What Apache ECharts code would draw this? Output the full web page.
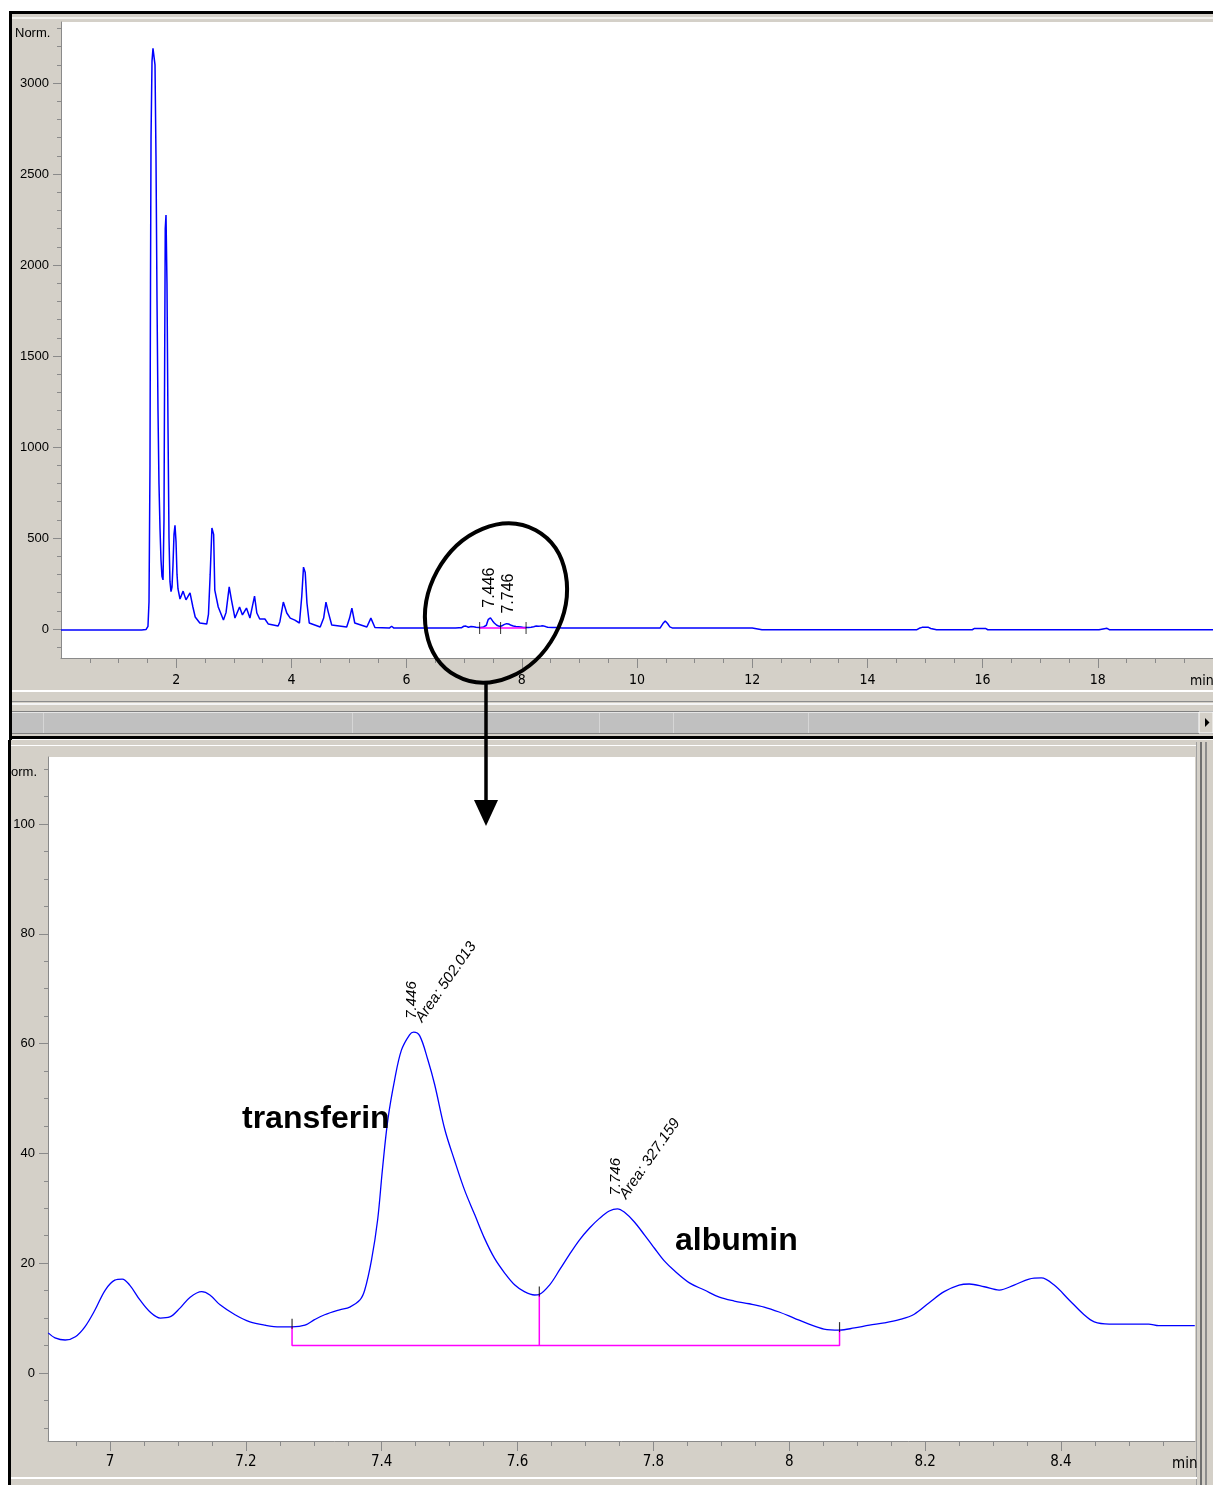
<!DOCTYPE html>
<html><head><meta charset="utf-8">
<script src="https://cdn.jsdelivr.net/npm/echarts@6/dist/echarts.min.js"></script>
<style>html,body{margin:0;padding:0;background:#fff}#c{width:1213px;height:1485px}</style>
</head><body><div id="c"></div>
<script>
// ---------- DATA ----------
// overview chromatogram (0 - 6.9 min)
const overviewTimes = [0,1.40,1.475,1.493,1.510,1.528,1.545,1.554,1.563,1.580,1.597,1.615,1.632,1.649,1.667,1.684,1.701,1.719,1.736,1.753,1.771,1.788,1.800,1.810,1.823,1.840,1.858,1.875,1.892,1.910,1.927,1.944,1.962,1.979,1.997,2.014,2.031,2.066,2.12,2.17,2.24,2.29,2.33,2.41,2.53,2.56,2.59,2.62,2.65,2.67,2.73,2.82,2.865,2.92,2.96,3.02,3.10,3.15,3.22,3.28,3.32,3.36,3.40,3.45,3.54,3.60,3.77,3.80,3.86,3.92,3.98,4.06,4.14,4.18,4.21,4.24,4.27,4.31,4.50,4.56,4.60,4.64,4.70,4.96,5.01,5.05,5.10,5.31,5.38,5.45,5.70,5.74,5.78,6.08,6.11,6.14,6.27,6.30,6.33,6.85];
const overviewValues = [-5,-5,-3,0,15,150,900,1900,2700,3120,3190,3190,3100,2600,1800,1200,800,550,380,290,270,600,1500,2200,2275,1900,1100,500,260,205,230,350,520,570,480,300,220,165,208,160,198,121,66,33,27,80,300,555,520,214,121,49,90,231,159,60,121,77,115,60,120,181,88,55,55,27,16,40,148,88,60,49,33,180,340,310,143,33,11,60,148,93,22,11,60,115,33,11,60,8,5,15,5,5,14,5,5,12,5,5];
// overview chromatogram (8.6 - 20 min)
const tailTimes = [8.7,8.9,10.40,10.45,10.49,10.53,10.57,10.62,12.0,12.03,12.17,12.2,12.25,12.6,12.62,12.64,14.86,14.9,14.95,15.06,15.1,15.2,15.82,15.86,16.05,16.09,18.02,18.05,18.16,18.2,20];
const tailValues = [6,5,5,30,44,30,12,5,5,-4,-4,4,-4,-4,3,-4,-4,4,9,9,3,-4,-4,3,3,-4,-4,4,4,-4,-4];
// zoomed detail (6.91 - 8.6 min)
const zoomTimes = [6.909,6.919,6.934,6.949,6.963,6.978,6.993,7.007,7.018,7.029,7.044,7.059,7.074,7.088,7.103,7.118,7.135,7.147,7.162,7.184,7.206,7.228,7.250,7.268,7.287,7.301,7.316,7.338,7.353,7.368,7.375,7.385,7.394,7.401,7.409,7.419,7.429,7.441,7.447,7.456,7.468,7.478,7.493,7.507,7.522,7.537,7.551,7.566,7.581,7.596,7.610,7.625,7.632,7.647,7.662,7.676,7.691,7.706,7.721,7.735,7.747,7.757,7.772,7.787,7.801,7.816,7.831,7.853,7.875,7.897,7.919,7.941,7.963,7.985,8.007,8.029,8.051,8.074,8.096,8.118,8.140,8.162,8.184,8.206,8.228,8.250,8.265,8.287,8.309,8.331,8.353,8.371,8.390,8.412,8.434,8.449,8.471,8.529,8.544,8.597];
const zoomValues = [7.3,6.4,6.0,6.6,8.4,11.5,15.1,16.9,17.1,16.0,13.3,11.1,10.0,10.2,11.8,13.8,14.8,14.2,12.4,10.6,9.3,8.7,8.4,8.4,8.7,9.7,10.6,11.5,12.0,13.3,15.1,20.6,27.9,37.0,46.1,53.4,58.8,61.6,62.1,61.4,57.0,52.5,44.3,38.8,33.3,28.8,24.6,20.9,18.2,16.0,14.8,14.2,14.3,16.0,18.8,21.5,24.2,26.4,28.2,29.5,29.9,29.3,27.5,25.1,22.8,20.4,18.6,16.4,15.1,13.8,13.1,12.6,12.0,11.1,10.0,8.9,8.0,7.8,8.2,8.7,9.1,9.7,10.7,12.8,14.8,16.0,16.2,15.7,15.1,16.0,17.1,17.3,16.0,13.3,10.6,9.3,8.9,8.9,8.6,8.6];
// peaks and integration
const peakTimes = [7.446, 7.746];
const peakHeights = [62.1, 29.9];
const peakAreas = ['502.013', '327.159'];
const peakNames = ['transferin', 'albumin'];
const integrationTimes = [7.268, 7.632, 8.074];
const integrationHeights = [8.4, 14.3, 7.8];
const integrationLevel = 5;
// tick labels
const topXLabels = [2,4,6,8,10,12,14,16,18];
const topYLabels = [0,500,1000,1500,2000,2500,3000];
const zoomXLabels = [7,7.2,7.4,7.6,7.8,8,8.2,8.4];
const zoomYLabels = [0,20,40,60,80,100];

// ---------- helpers ----------
function steps(a, b, s){const r=[];for(let v=a; v<=b+1e-9; v+=s){r.push(Math.round(v*1000)/1000);}return r;}
const topXMinor = steps(0.5, 19.5, 0.5);
const topYMinor = steps(-100, 3300, 100);
const zoomXMinor = steps(6.95, 8.55, 0.05);
const zoomYMinor = steps(-10, 110, 5);

const pair = (ts, vs) => ts.map((t, i) => [t, vs[i]]);
const overviewData = pair(overviewTimes, overviewValues).concat(pair(zoomTimes, zoomValues), pair(tailTimes, tailValues));
const zoomData = pair(zoomTimes, zoomValues);

const AX = '#8a8a8a';
const NARROW = '"Liberation Sans Narrow","DejaVu Sans Condensed","Liberation Sans",sans-serif';
const SANS = '"Liberation Sans",Arial,sans-serif';

function majorAxis(grid, min, max, labels, tickLen, margin, font, size, isX) {
  return {
    type: 'value', gridIndex: grid, min: min, max: max, position: isX ? 'bottom' : 'left',
    axisLine: {show: true, onZero: false, lineStyle: {color: AX, width: 1}},
    axisTick: {show: true, inside: false, length: tickLen, customValues: labels, lineStyle: {color: AX, width: 1}},
    axisLabel: {show: true, customValues: labels, margin: margin, color: '#000', fontFamily: font, fontSize: size,
      formatter: v => String(v)},
    splitLine: {show: false}
  };
}
function minorAxis(grid, min, max, ticks, tickLen, isX) {
  return {
    type: 'value', gridIndex: grid, min: min, max: max, position: isX ? 'bottom' : 'left',
    axisLine: {show: false, onZero: false},
    axisTick: {show: true, inside: false, length: tickLen, customValues: ticks, lineStyle: {color: AX, width: 1}},
    axisLabel: {show: false},
    splitLine: {show: false}
  };
}

const topYMin = -159.3, topYMax = 3335.2;
const zoomXMin = 6.9087, zoomXMax = 8.5973;
const zoomYMin = -12.4, zoomYMax = 112.2;

const BG = '#d4d0c8';
const bgEls = [
  // top panel
  {type:'rect', shape:{x:10,y:12,width:1203,height:727}, style:{fill:BG}},
  {type:'rect', shape:{x:12,y:17,width:1201,height:2}, style:{fill:'#f1f0ec'}},
  {type:'rect', shape:{x:12,y:690,width:1201,height:2}, style:{fill:'#ffffff'}},
  {type:'rect', shape:{x:12,y:701,width:1201,height:1}, style:{fill:'#8c8c8c'}},
  {type:'rect', shape:{x:12,y:703,width:1201,height:2}, style:{fill:'#f4f4f4'}},
  {type:'rect', shape:{x:12,y:711,width:1201,height:1}, style:{fill:'#808080'}},
  {type:'rect', shape:{x:12,y:712,width:1187,height:21}, style:{fill:'#c0c0c0'}},
  {type:'rect', shape:{x:12,y:712,width:1187,height:1}, style:{fill:'#e6e6e6'}},
  {type:'rect', shape:{x:12,y:733,width:1201,height:1}, style:{fill:'#808080'}},
  {type:'rect', shape:{x:43,y:713,width:1,height:20}, style:{fill:'#d6d6d6'}},
  {type:'rect', shape:{x:352,y:713,width:1,height:20}, style:{fill:'#d6d6d6'}},
  {type:'rect', shape:{x:599,y:713,width:1,height:20}, style:{fill:'#d6d6d6'}},
  {type:'rect', shape:{x:673,y:713,width:1,height:20}, style:{fill:'#d6d6d6'}},
  {type:'rect', shape:{x:808,y:713,width:1,height:20}, style:{fill:'#d6d6d6'}},
  {type:'rect', shape:{x:1199,y:712,width:14,height:21}, style:{fill:BG, stroke:'#ffffff', lineWidth:1}},
  {type:'polygon', shape:{points:[[1205,718],[1205,727],[1209.5,722.5]]}, style:{fill:'#000'}},
  {type:'rect', shape:{x:9,y:11,width:1204,height:3}, style:{fill:'#000'}},
  {type:'rect', shape:{x:9,y:11,width:3,height:729}, style:{fill:'#000'}},
  {type:'rect', shape:{x:9,y:736,width:1204,height:3}, style:{fill:'#000'}},
  // bottom panel
  {type:'rect', shape:{x:8,y:740,width:1205,height:745}, style:{fill:BG}},
  {type:'rect', shape:{x:8,y:740,width:3,height:745}, style:{fill:'#000'}},
  {type:'rect', shape:{x:11,y:745,width:1186,height:1}, style:{fill:'#ffffff'}},
  {type:'rect', shape:{x:1196,y:742,width:1,height:743}, style:{fill:'#a0a0a0'}},
  {type:'rect', shape:{x:1200,y:742,width:2,height:743}, style:{fill:'#707070'}},
  {type:'rect', shape:{x:1205,y:742,width:2,height:743}, style:{fill:'#8c8c8c'}},
  {type:'rect', shape:{x:11,y:1477,width:1186,height:2}, style:{fill:'#ffffff'}}
].map(e => Object.assign(e, {z: -100, silent: true}));

const fixedEls = [
  {type:'text', x:15, y:33, style:{text:'Norm.', fill:'#000', fontFamily:SANS, fontSize:13, align:'left', verticalAlign:'middle'}},
  {type:'text', x:11, y:772, style:{text:'orm.', fill:'#000', fontFamily:SANS, fontSize:13, align:'left', verticalAlign:'middle'}},
  {type:'text', x:1190, y:681, style:{text:'min', fill:'#000', fontFamily:NARROW, fontSize:14, align:'left', verticalAlign:'middle'}},
  {type:'text', x:1172, y:1464, style:{text:'min', fill:'#000', fontFamily:NARROW, fontSize:15, align:'left', verticalAlign:'middle'}},
  // circle + arrow
  {type:'ellipse', x:496, y:603, rotation:-0.5, shape:{cx:0, cy:0, rx:67, ry:83}, style:{fill:'none', stroke:'#000', lineWidth:4}},
  {type:'line', shape:{x1:486, y1:683, x2:486, y2:803}, style:{stroke:'#000', lineWidth:3.5}},
  {type:'polygon', shape:{points:[[474,800],[498,800],[486,826]]}, style:{fill:'#000'}},
  {type:'text', x:242, y:1119, style:{text:peakNames[0], fill:'#000', fontFamily:SANS, fontWeight:'bold', fontSize:32, align:'left', verticalAlign:'middle'}},
  {type:'text', x:675, y:1241, style:{text:peakNames[1], fill:'#000', fontFamily:SANS, fontWeight:'bold', fontSize:32, align:'left', verticalAlign:'middle'}}
].map(e => Object.assign(e, {z: 100}));

const option = {
  animation: false,
  backgroundColor: '#ffffff',
  grid: [
    {left:61, top:22, width:1152, height:636, show:true, backgroundColor:'#ffffff', borderWidth:0, containLabel:false, outerBoundsMode:'none'},
    {left:48, top:757, width:1147, height:684, show:true, backgroundColor:'#ffffff', borderWidth:0, containLabel:false, outerBoundsMode:'none'}
  ],
  xAxis: [
    majorAxis(0, 0, 20, topXLabels, 10, 15, NARROW, 14, true),
    minorAxis(0, 0, 20, topXMinor, 5, true),
    majorAxis(1, zoomXMin, zoomXMax, zoomXLabels, 10, 14, NARROW, 15, true),
    minorAxis(1, zoomXMin, zoomXMax, zoomXMinor, 5, true)
  ],
  yAxis: [
    majorAxis(0, topYMin, topYMax, topYLabels, 8, 12, SANS, 13, false),
    minorAxis(0, topYMin, topYMax, topYMinor, 4, false),
    majorAxis(1, zoomYMin, zoomYMax, zoomYLabels, 9, 13, SANS, 13, false),
    minorAxis(1, zoomYMin, zoomYMax, zoomYMinor, 4, false)
  ],
  series: [
    {type:'line', xAxisIndex:0, yAxisIndex:0, data:overviewData, symbol:'none', lineStyle:{color:'#0000ff', width:1.5}, z:3},
    {type:'line', xAxisIndex:0, yAxisIndex:0, data:[[integrationTimes[0], integrationLevel],[integrationTimes[2], integrationLevel]], symbol:'none', lineStyle:{color:'#ff00ff', width:1.5}, z:4},
    {type:'scatter', xAxisIndex:0, yAxisIndex:0, data:integrationTimes.map(t => [t, integrationLevel]), symbol:'rect', symbolSize:[1,12], itemStyle:{color:'#000'}, z:5},
    {type:'line', xAxisIndex:2, yAxisIndex:2, data:zoomData, symbol:'none', smooth:0.35, lineStyle:{color:'#0000ff', width:1.3}, z:3},
    {type:'line', xAxisIndex:2, yAxisIndex:2, data:[[integrationTimes[0], integrationHeights[0]],[integrationTimes[0], integrationLevel],[integrationTimes[2], integrationLevel],[integrationTimes[2], integrationHeights[2]]], symbol:'none', lineStyle:{color:'#ff00ff', width:1.5}, z:4},
    {type:'line', xAxisIndex:2, yAxisIndex:2, data:[[integrationTimes[1], integrationLevel],[integrationTimes[1], integrationHeights[1]]], symbol:'none', lineStyle:{color:'#ff00ff', width:1.5}, z:4},
    {type:'scatter', xAxisIndex:2, yAxisIndex:2, data:pair(integrationTimes, integrationHeights), symbol:'rect', symbolSize:[1.2,10], symbolOffset:[0,-3], itemStyle:{color:'#000'}, z:5}
  ],
  graphic: {elements: bgEls.concat(fixedEls)}
};

const chart = echarts.init(document.getElementById('c'), null, {width:1213, height:1485});
chart.setOption(option);

// peak labels anchored to the peaks through the axes
const labelEls = [];
peakTimes.forEach((t, i) => {
  const p = chart.convertToPixel({seriesIndex: 3}, [t, peakHeights[i]]);
  labelEls.push({type:'text', x:p[0]-1, y:p[1]-32, rotation:Math.PI/2, z:100,
    style:{text:t.toFixed(3), fill:'#000', fontFamily:SANS, fontStyle:'italic', fontSize:15, align:'center', verticalAlign:'middle'}});
  labelEls.push({type:'text', x:p[0]+33, y:p[1]-50, rotation:55*Math.PI/180, z:100,
    style:{text:'Area: ' + peakAreas[i], fill:'#000', fontFamily:SANS, fontStyle:'italic', fontSize:15, align:'center', verticalAlign:'middle'}});
  const q = chart.convertToPixel({seriesIndex: 0}, [t, peakHeights[i]]);
  labelEls.push({type:'text', x:q[0]+i*1, y:q[1]-30, rotation:Math.PI/2, z:100,
    style:{text:t.toFixed(3), fill:'#000', fontFamily:SANS, fontSize:16, align:'center', verticalAlign:'middle'}});
});
chart.setOption({graphic: {elements: bgEls.concat(fixedEls, labelEls)}}, {replaceMerge: ['graphic']});
</script>
</body></html>
